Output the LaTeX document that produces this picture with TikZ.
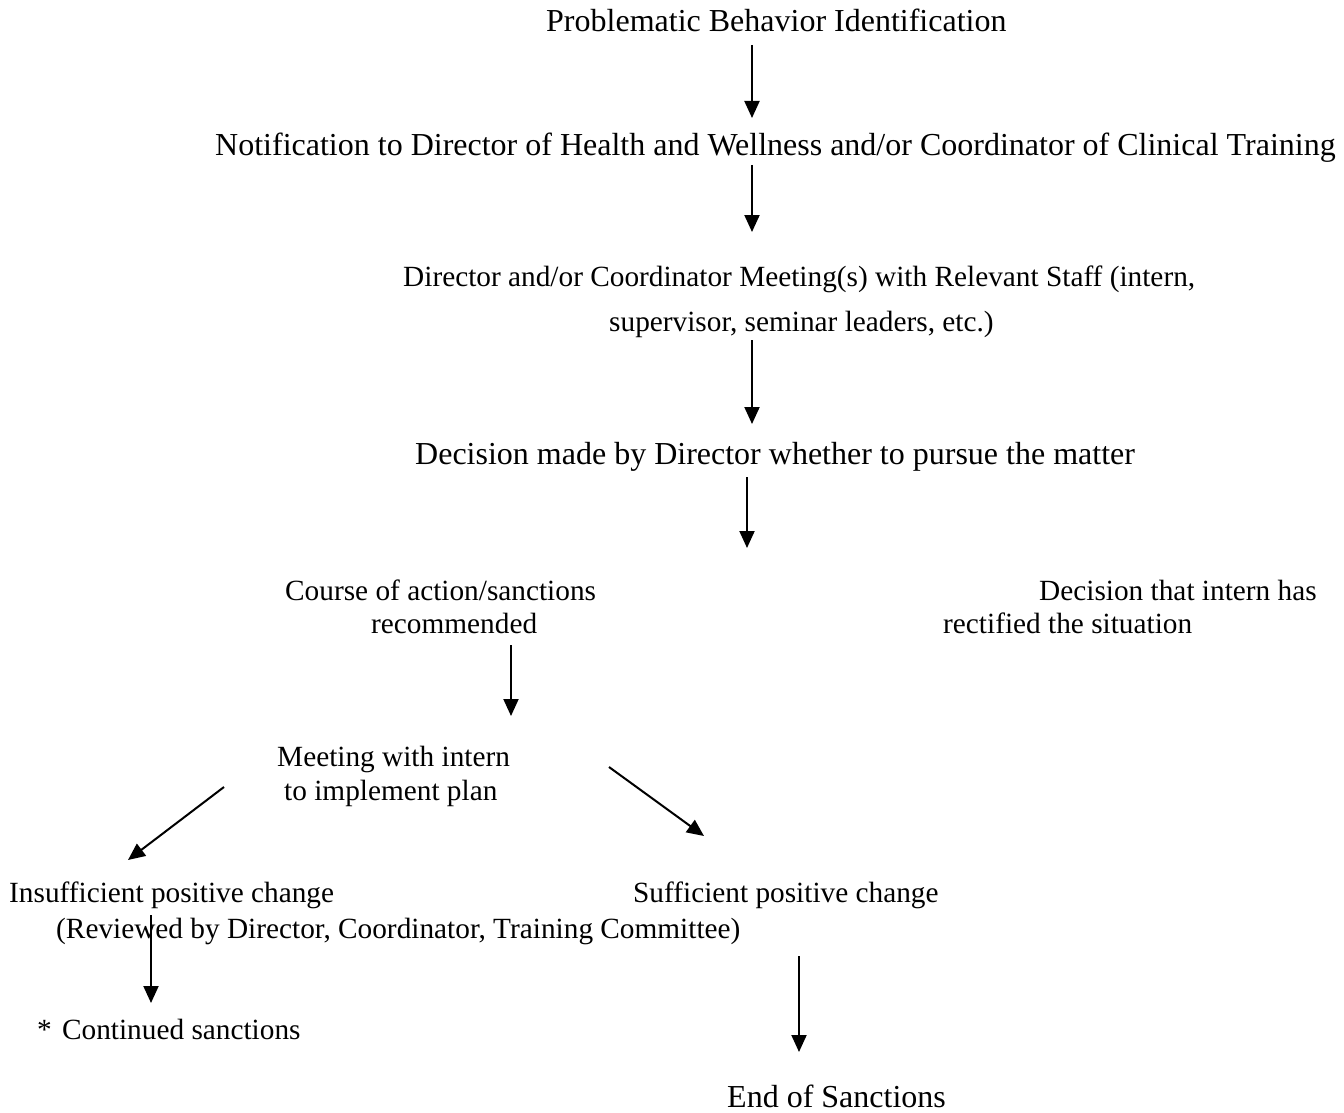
\documentclass[tikz,border=0pt]{standalone}
\usepackage{fontspec}
\setmainfont{Liberation Serif}
\usetikzlibrary{arrows.meta}
\tikzset{
  big/.style={anchor=base west, inner sep=0pt, font=\fontsize{32.0}{36}\selectfont},
  small/.style={anchor=base west, inner sep=0pt, font=\fontsize{29.3}{34}\selectfont},
  flow/.style={line width=2pt, -{Triangle[length=17pt,width=15pt]}}
}
\begin{document}
\begin{tikzpicture}[x=1pt,y=-1pt]
\useasboundingbox (0,0) rectangle (1344,1113);
% texts
\node[big] (t1) at (546,32) {Problematic Behavior Identification};
\node[big] (t2) at (215,156) {Notification to Director of Health and Wellness and/or Coordinator of Clinical Training};
\node[small] (t3a) at (403,286) {Director and/or Coordinator Meeting(s) with Relevant Staff (intern,};
\node[small] (t3b) at (609,331) {supervisor, seminar leaders, etc.)};
\node[big] (t4) at (415,464) {Decision made by Director whether to pursue the matter};
\node[small] (t5a) at (285,600) {Course of action/sanctions};
\node[small] (t5b) at (371,633) {recommended};
\node[small] (t6a) at (1039,600) {Decision that intern has};
\node[small] (t6b) at (943,633) {rectified the situation};
\node[small] (t7a) at (277,766) {Meeting with intern};
\node[small] (t7b) at (284,800) {to implement plan};
\node[small] (t8a) at (9,902) {Insufficient positive change};
\node[small] (t8b) at (56,938) {(Reviewed by Director, Coordinator, Training Committee)};
\node[small] (t9) at (633,902) {Sufficient positive change};
\node[small] (t10) at (37,1039) {*\hspace{0.35em}Continued sanctions};
\node[big] (t11) at (727,1107) {End of Sanctions};
% arrow end points
\coordinate (a1s) at (752,45);  \coordinate (a1e) at (752,118);
\coordinate (a2s) at (752,165); \coordinate (a2e) at (752,232);
\coordinate (a3s) at (752,340); \coordinate (a3e) at (752,424);
\coordinate (a4s) at (747,477); \coordinate (a4e) at (747,548);
\coordinate (a5s) at (511,645); \coordinate (a5e) at (511,716);
\coordinate (a6s) at (224,787); \coordinate (a6e) at (128,860);
\coordinate (a7s) at (609,767); \coordinate (a7e) at (704,836);
\coordinate (a8s) at (151,915); \coordinate (a8e) at (151,1003);
\coordinate (a9s) at (799,956); \coordinate (a9e) at (799,1052);
\foreach \i in {1,...,9} {\draw[flow] (a\i s) -- (a\i e);}
\end{tikzpicture}
\end{document}
